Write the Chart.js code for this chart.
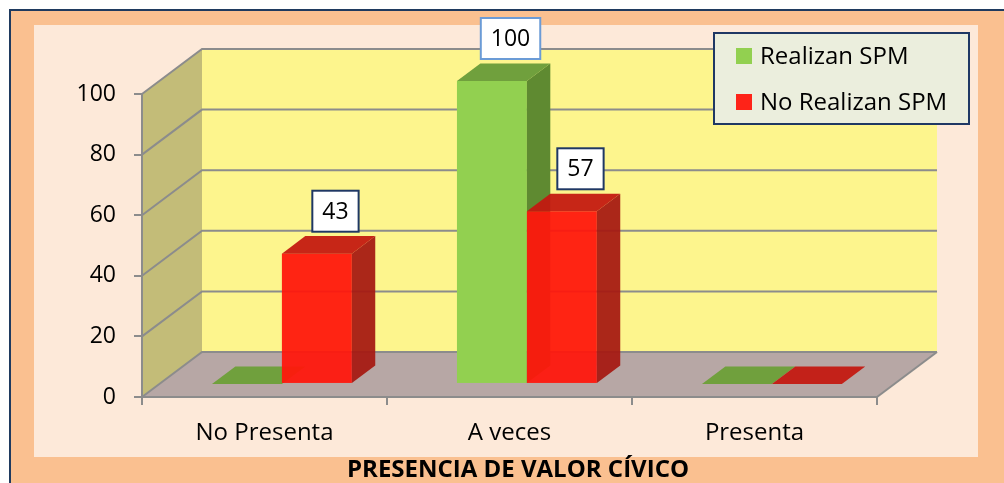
<!DOCTYPE html>
<html>
<head>
<meta charset="utf-8">
<script src="https://cdn.jsdelivr.net/npm/chart.js@4.4.1/dist/chart.umd.min.js"></script>
<style>
  html, body { margin: 0; padding: 0; background: #fff; }
  #wrap { width: 1004px; height: 483px; }
</style>
</head>
<body>
<div id="wrap"><canvas id="myChart" width="1004" height="483"></canvas></div>
<script>
'use strict';
// datos
const categories = ['No Presenta', 'A veces', 'Presenta'];
const seriesNames = ['Realizan SPM', 'No Realizan SPM'];
const realizan = [0, 100, 0];
const noRealizan = [43, 57, 0];
const yTicks = [0, 20, 40, 60, 80, 100];
const chartTitle = 'PRESENCIA DE VALOR CÍVICO';

// estilos
const FONT = '"Open Sans", "Noto Sans", sans-serif';
const gridColor = '#8c8c8c';
const faces = [
    { front: '#92d050', top: '#70a03d', side: '#5f8a31', labelBorder: '#6b9bd6' },
    { front: 'rgba(255,22,12,0.94)', top: 'rgba(196,24,16,0.94)', side: 'rgba(166,26,18,0.94)', labelBorder: '#1f3864' }
];
const depth = { x: 60, y: -45 };
const f1 = 0.29, f2 = 0.68;

const fondo3d = {
    id: 'fondo3d',
    beforeDraw(chart) {
        const ctx = chart.ctx;
        const a = chart.chartArea;
        const y = chart.scales.y;
        ctx.save();
        // marco
        ctx.fillStyle = '#fff';
        ctx.fillRect(0, 0, chart.width, chart.height);
        ctx.fillStyle = '#fac090';
        ctx.fillRect(9, 9, chart.width, chart.height);
        ctx.strokeStyle = '#1f3a5f';
        ctx.lineWidth = 2;
        ctx.beginPath();
        ctx.moveTo(10, chart.height + 2);
        ctx.lineTo(10, 10);
        ctx.lineTo(chart.width + 2, 10);
        ctx.stroke();
        ctx.fillStyle = '#fde9d9';
        ctx.fillRect(34, 25, 944, 432);

        const y0 = y.getPixelForValue(0);
        const yMax = y.getPixelForValue(100);
        // pared lateral
        ctx.fillStyle = '#c3bc78';
        ctx.beginPath();
        ctx.moveTo(a.left, yMax);
        ctx.lineTo(a.left + depth.x, yMax + depth.y);
        ctx.lineTo(a.left + depth.x, y0 + depth.y);
        ctx.lineTo(a.left, y0);
        ctx.closePath();
        ctx.fill();
        // pared fondo
        ctx.fillStyle = '#fdf58d';
        ctx.fillRect(a.left + depth.x, yMax + depth.y, a.right - a.left, y0 - yMax);
        // piso
        ctx.fillStyle = '#b7a7a5';
        ctx.beginPath();
        ctx.moveTo(a.left, y0);
        ctx.lineTo(a.right, y0);
        ctx.lineTo(a.right + depth.x, y0 + depth.y);
        ctx.lineTo(a.left + depth.x, y0 + depth.y);
        ctx.closePath();
        ctx.fill();
        ctx.strokeStyle = gridColor;
        ctx.lineWidth = 2;
        ctx.beginPath();
        ctx.moveTo(a.right, y0);
        ctx.lineTo(a.right + depth.x, y0 + depth.y);
        ctx.stroke();
        // lineas de grilla
        yTicks.forEach(v => {
            const py = y.getPixelForValue(v);
            ctx.beginPath();
            ctx.moveTo(a.left, py);
            ctx.lineTo(a.left + depth.x, py + depth.y);
            ctx.lineTo(a.right + depth.x, py + depth.y);
            ctx.stroke();
        });
        // titulo
        ctx.fillStyle = '#000';
        ctx.font = 'bold 24px ' + FONT;
        ctx.textAlign = 'center';
        ctx.textBaseline = 'alphabetic';
        ctx.fillText(chartTitle, 518, 477);
        ctx.restore();
    },
    afterDatasetsDraw(chart) {
        const ctx = chart.ctx;
        const o1 = { x: depth.x * f1, y: depth.y * f1 };
        const o2 = { x: depth.x * f2, y: depth.y * f2 };
        const bars = [];
        chart.data.datasets.forEach((ds, di) => {
            chart.getDatasetMeta(di).data.forEach((el, i) => {
                bars.push({ el, di, value: ds.data[i] });
            });
        });
        bars.sort((p, q) => p.el.x - q.el.x);
        ctx.save();
        bars.forEach(({ el, di }) => {
            const c = faces[di];
            const l = el.x - el.width / 2, r = el.x + el.width / 2;
            const t = el.y, b = el.base;
            const h = b - t;
            if (h > 0.5) {
                ctx.fillStyle = c.front;
                ctx.fillRect(l + o1.x, t + o1.y, r - l, h);
                ctx.fillStyle = c.side;
                ctx.beginPath();
                ctx.moveTo(r + o1.x, t + o1.y);
                ctx.lineTo(r + o2.x, t + o2.y);
                ctx.lineTo(r + o2.x, b + o2.y);
                ctx.lineTo(r + o1.x, b + o1.y);
                ctx.closePath();
                ctx.fill();
            }
            ctx.fillStyle = c.top;
            ctx.beginPath();
            ctx.moveTo(l + o1.x, t + o1.y);
            ctx.lineTo(r + o1.x, t + o1.y);
            ctx.lineTo(r + o2.x, t + o2.y);
            ctx.lineTo(l + o2.x, t + o2.y);
            ctx.closePath();
            ctx.fill();
        });
        // etiquetas
        ctx.font = '23px ' + FONT;
        ctx.textAlign = 'center';
        ctx.textBaseline = 'middle';
        bars.forEach(({ el, di, value }) => {
            if (!value) return;
            const txt = String(value);
            const w = ctx.measureText(txt).width + 20;
            const hgt = 41;
            const cx = el.x + 36;
            const bottom = el.y - 35;
            ctx.fillStyle = '#fff';
            ctx.fillRect(cx - w / 2, bottom - hgt, w, hgt);
            ctx.strokeStyle = faces[di].labelBorder;
            ctx.lineWidth = 2;
            ctx.strokeRect(cx - w / 2, bottom - hgt, w, hgt);
            ctx.fillStyle = '#000';
            ctx.fillText(txt, cx, bottom - hgt / 2 + 1);
        });
        // leyenda
        ctx.font = '24px ' + FONT;
        ctx.fillStyle = '#ebeedd';
        ctx.fillRect(714, 33, 255, 91);
        ctx.strokeStyle = '#1f3864';
        ctx.lineWidth = 2;
        ctx.strokeRect(714, 33, 255, 91);
        ctx.textAlign = 'left';
        chart.data.datasets.forEach((ds, di) => {
            const ly = 56 + di * 46;
            ctx.fillStyle = faces[di].front;
            ctx.fillRect(736, ly - 8, 16, 16);
            ctx.fillStyle = '#000';
            ctx.fillText(ds.label, 760, ly + 1);
        });
        ctx.restore();
    }
};

const ctx = document.getElementById('myChart');
const myChart = new Chart(ctx.getContext('2d'), {
    type: 'bar',
    data: {
        labels: categories,
        datasets: [{
            label: seriesNames[0],
            data: realizan,
            backgroundColor: 'rgba(0,0,0,0)',
            borderWidth: 0
        }, {
            label: seriesNames[1],
            data: noRealizan,
            backgroundColor: 'rgba(0,0,0,0)',
            borderWidth: 0
        }]
    },
    options: {
        responsive: false,
        animation: false,
        devicePixelRatio: 1,
        categoryPercentage: 0.571,
        barPercentage: 1,
        layout: {
            padding: { left: 0, top: 94, right: 127, bottom: 0 }
        },
        plugins: {
            legend: { display: false },
            tooltip: { enabled: false },
            title: { display: false }
        },
        scales: {
            x: {
                offset: true,
                grid: {
                    offset: true,
                    drawOnChartArea: false,
                    tickLength: 8,
                    color: gridColor,
                    lineWidth: 2
                },
                border: { display: true, color: gridColor, width: 2 },
                ticks: {
                    color: '#000',
                    padding: 14,
                    font: { family: FONT, size: 24 }
                },
                afterFit(scale) { scale.height = 86; }
            },
            y: {
                min: 0,
                max: 100,
                grid: {
                    drawOnChartArea: false,
                    tickLength: 8,
                    color: gridColor,
                    lineWidth: 2
                },
                border: { display: true, color: gridColor, width: 2 },
                ticks: {
                    color: '#000',
                    padding: 18,
                    font: { family: FONT, size: 23 }
                },
                afterBuildTicks(scale) { scale.ticks = yTicks.map(v => ({ value: v })); },
                afterFit(scale) { scale.width = 142; }
            }
        }
    },
    plugins: [fondo3d]
});
</script>
</body>
</html>
